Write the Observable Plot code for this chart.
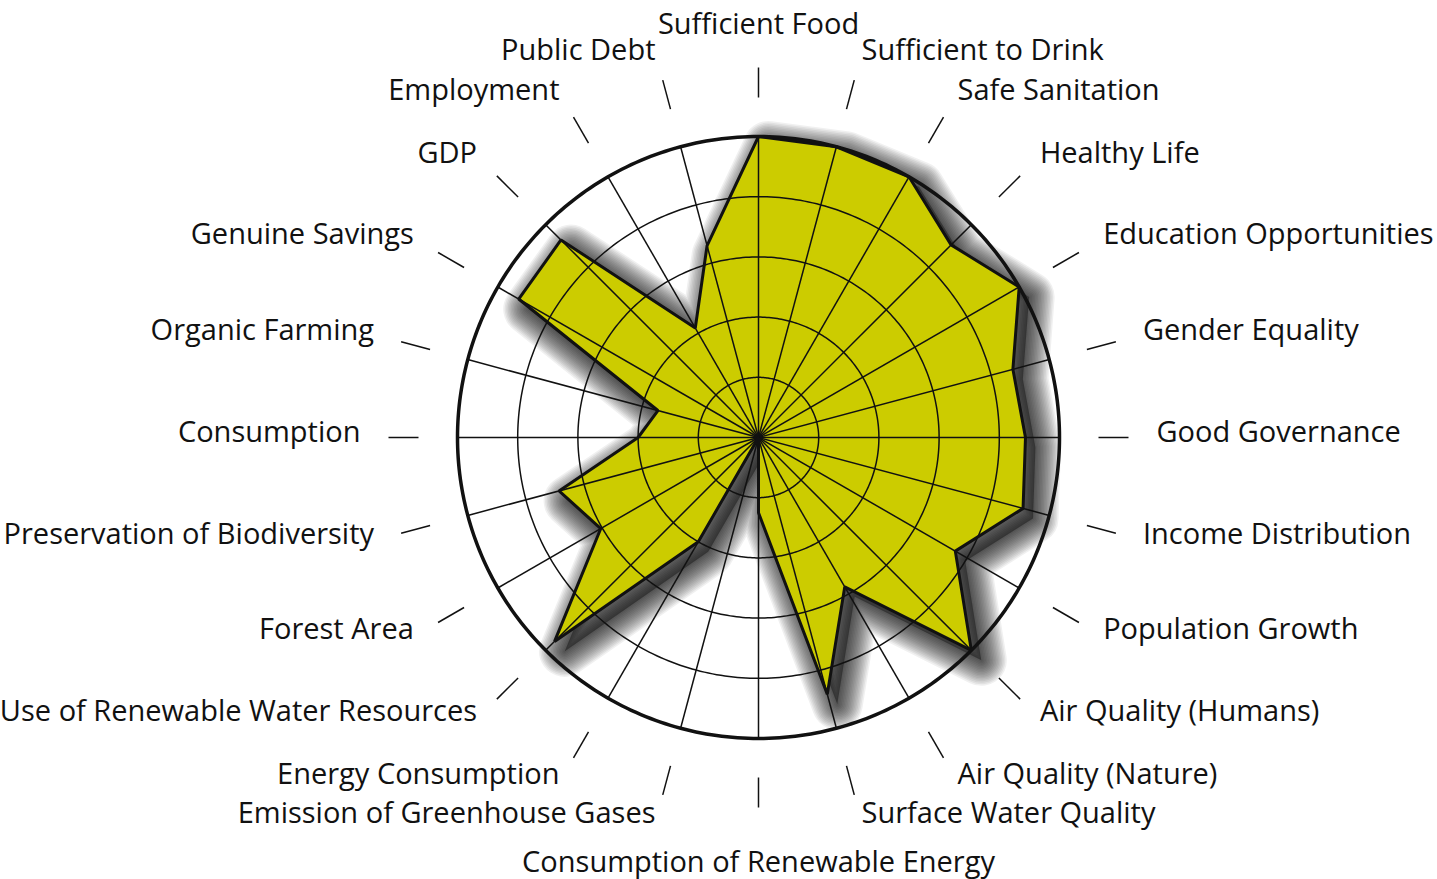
<!DOCTYPE html>
<html><head><meta charset="utf-8">
<script src="https://cdn.jsdelivr.net/npm/d3@7"></script>
<script src="https://cdn.jsdelivr.net/npm/@observablehq/plot@0.6"></script>
<style>body{margin:0;background:#fff} #chart{width:1437px;height:879px}</style>
</head><body><div id="chart"></div>
<script>
// Indicators, clockwise from the top
const indicators = ["Sufficient Food", "Sufficient to Drink", "Safe Sanitation", "Healthy Life",
  "Education Opportunities", "Gender Equality", "Good Governance", "Income Distribution",
  "Population Growth", "Air Quality (Humans)", "Air Quality (Nature)", "Surface Water Quality",
  "Consumption of Renewable Energy", "Emission of Greenhouse Gases", "Energy Consumption",
  "Use of Renewable Water Resources", "Forest Area", "Preservation of Biodiversity", "Consumption",
  "Organic Farming", "Genuine Savings", "GDP", "Employment", "Public Debt"];
// Score of each indicator (1 = outer circle)
const scores = [1.0, 1.0, 1.0, 0.905, 1.0, 0.875, 0.887, 0.91, 0.755, 1.0, 0.573, 0.883,
  0.25, 0.0, 0.40, 0.958, 0.605, 0.686, 0.40, 0.346, 0.92, 0.928, 0.42, 0.66];
// Grid rings
const rings = [0.2, 0.4, 0.6, 0.8, 1.0];

const W = 1437, H = 879, CX = 758, CY = 437, R = 301;
const n = indicators.length;
const ang = i => i * 2 * Math.PI / n;
const deg = i => i * 360 / n;

const poly = indicators.map((name, i) => ({name, x: scores[i] * Math.sin(ang(i)), y: scores[i] * Math.cos(ang(i))}));
const circlePts = r => d3.range(0, 360, 1).map(a => ({ring: r, x: r * Math.sin(a * Math.PI / 180), y: r * Math.cos(a * Math.PI / 180)}));
const innerRings = rings.filter(r => r < 1).flatMap(circlePts);
const outerRing = circlePts(1);
const spokes = indicators.map((name, i) => ({name, x: Math.sin(ang(i)), y: Math.cos(ang(i))}));

const T1 = 340 / R, T2 = 370 / R, RL = 398 / R, RTOP = 404 / R, RBOT = 414 / R;
const labels = indicators.map((name, i) => {
  const d = deg(i);
  const r = d === 0 ? RTOP : d === 180 ? RBOT : RL;
  const fy = (d === 0 || d === 180) ? 1 : 0.992;
  return {name, d, x: r * Math.sin(ang(i)), y: fy * r * Math.cos(ang(i))};
});

// Soft drop shadow built from stacked, widening translucent outlines
const shadowWidths = d3.range(3, 54, 3);
const shadow = [
  Plot.line(poly, {x: "x", y: "y", curve: "linear-closed", fill: "#000", fillOpacity: 0.35, stroke: "none", dx: 10, dy: 10}),
  ...shadowWidths.map(w => Plot.line(poly, {x: "x", y: "y", curve: "linear-closed", fill: "none", stroke: "#000", strokeOpacity: 0.06, strokeWidth: w, strokeLinejoin: "round", dx: 10, dy: 10}))
];

const font = {fontFamily: "Open Sans", fontSize: 29, fill: "#111"};
const chart = Plot.plot({
  width: W, height: H,
  margin: 0,
  x: {domain: [-CX / R, (W - CX) / R], range: [0, W], axis: null},
  y: {domain: [-(H - CY) / R, CY / R], range: [H, 0], axis: null},
  marks: [
    ...shadow,
    Plot.line(poly, {x: "x", y: "y", curve: "linear-closed", fill: "#cccc00", stroke: "none"}),
    Plot.line(innerRings, {x: "x", y: "y", z: "ring", curve: "linear-closed", stroke: "#111", strokeWidth: 1.5}),
    Plot.link(spokes, {x1: d => 0, y1: d => 0, x2: "x", y2: "y", stroke: "#111", strokeWidth: 1.5}),
    Plot.line(poly, {x: "x", y: "y", curve: "linear-closed", stroke: "#111", strokeWidth: 3, strokeLinejoin: "miter"}),
    Plot.line(outerRing, {x: "x", y: "y", curve: "linear-closed", stroke: "#111", strokeWidth: 3.5}),
    Plot.link(spokes, {x1: d => d.x * T1, y1: d => d.y * T1, x2: d => d.x * T2, y2: d => d.y * T2, stroke: "#111", strokeWidth: 1.5}),
    Plot.text(labels.filter(d => d.d > 0 && d.d < 180), {x: "x", y: "y", text: "name", textAnchor: "start", lineAnchor: "middle", dy: -5, ...font}),
    Plot.text(labels.filter(d => d.d > 180), {x: "x", y: "y", text: "name", textAnchor: "end", lineAnchor: "middle", dy: -5, ...font}),
    Plot.text(labels.filter(d => d.d === 0), {x: "x", y: "y", text: "name", textAnchor: "middle", lineAnchor: "bottom", ...font}),
    Plot.text(labels.filter(d => d.d === 180), {x: "x", y: "y", text: "name", textAnchor: "middle", lineAnchor: "top", ...font})
  ]
});
document.getElementById("chart").append(chart);
</script>
</body></html>
